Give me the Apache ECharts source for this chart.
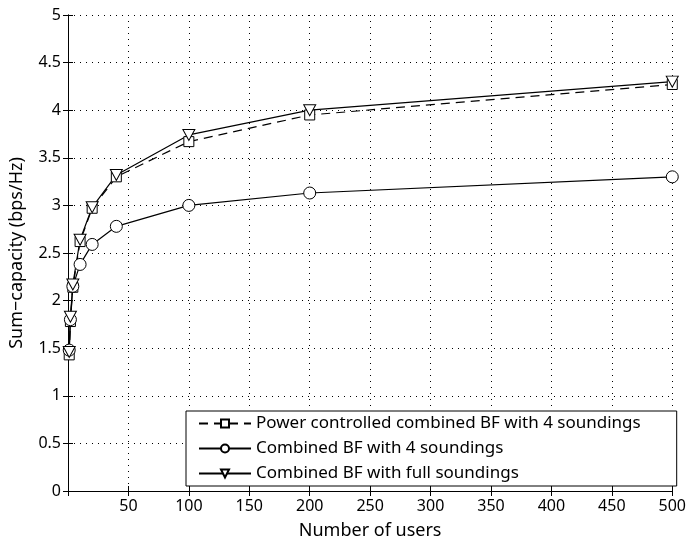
<!DOCTYPE html>
<html>
<head>
<meta charset="utf-8">
<script src="https://cdn.jsdelivr.net/npm/echarts@6/dist/echarts.min.js"></script>
<style>
  html, body { margin: 0; padding: 0; background: #fff; }
  #chart { width: 689px; height: 545px; }
</style>
</head>
<body>
<div id="chart"></div>
<script>
const users = [1, 2, 4, 10, 20, 40, 100, 200, 500]
const powerCtrl = [1.43, 1.78, 2.14, 2.62, 2.97, 3.30, 3.67, 3.95, 4.27]
const fourSound = [1.48, 1.80, 2.15, 2.38, 2.59, 2.78, 3.00, 3.13, 3.30]
const fullSound = [1.46, 1.83, 2.17, 2.64, 2.98, 3.32, 3.74, 4.00, 4.30]
const names = ['Power controlled combined BF with 4 soundings', 'Combined BF with 4 soundings', 'Combined BF with full soundings']

const font = 'Noto Sans'
const pairs = ys => users.map((u, i) => [u, ys[i]])
const hollow = { color: '#fff', borderColor: '#000', borderWidth: 1 }
const downTri = 'path://M0,0 L10,0 L5,9 Z'

const gridLine = { show: true, lineStyle: { color: '#000', type: [1, 5], width: 1 } }

const chart = echarts.init(document.getElementById('chart'))
chart.setOption({
  animation: false,
  textStyle: { fontFamily: font, color: '#000' },
  grid: { left: 67, right: 14, top: 15, bottom: 54, containLabel: false },
  legend: {
    orient: 'vertical',
    left: 186, top: 411,
    data: names,
    itemWidth: 52, itemHeight: 10, itemGap: 8,
    padding: [4, 36, 4, 12],
    borderColor: '#000', borderWidth: 1,
    backgroundColor: '#fff',
    textStyle: { fontFamily: font, fontSize: 17, color: '#000' }
  },
  xAxis: [{
    type: 'value', min: 0, max: 500, interval: 50,
    name: 'Number of users', nameLocation: 'middle', nameGap: 31,
    nameTextStyle: { fontSize: 18, fontFamily: font, color: '#000' },
    axisLine: { show: true, onZero: false, lineStyle: { color: '#000' } },
    axisTick: { inside: true, length: 5, lineStyle: { color: '#000' } },
    axisLabel: { fontSize: 16, color: '#000', margin: 7, showMinLabel: false },
    splitLine: gridLine
  }, {
    type: 'value', position: 'top', min: 0, max: 500, interval: 50,
    axisLine: { show: true, lineStyle: { color: '#000' } },
    axisTick: { inside: true, length: 5, lineStyle: { color: '#000' } },
    axisLabel: { show: false }, splitLine: { show: false }
  }],
  yAxis: [{
    type: 'value', min: 0, max: 5, interval: 0.5,
    name: 'Sum\u2212capacity (bps/Hz)', nameLocation: 'middle', nameGap: 42,
    nameTextStyle: { fontSize: 18, fontFamily: font, color: '#000' },
    axisLine: { show: true, lineStyle: { color: '#000' } },
    axisTick: { inside: true, length: 5, lineStyle: { color: '#000' } },
    axisLabel: { fontSize: 16, color: '#000', margin: 7 },
    splitLine: gridLine
  }, {
    type: 'value', position: 'right', min: 0, max: 5, interval: 0.5,
    axisLine: { show: true, lineStyle: { color: '#000' } },
    axisTick: { inside: true, length: 5, lineStyle: { color: '#000' } },
    axisLabel: { show: false }, splitLine: { show: false }
  }],
  series: [
    {
      name: names[0], type: 'line', data: pairs(powerCtrl),
      color: '#000',
      symbol: 'rect', symbolSize: 10, showAllSymbol: true,
      itemStyle: hollow,
      lineStyle: { color: '#000', width: 1.2, type: [9, 6] }
    },
    {
      name: names[1], type: 'line', data: pairs(fourSound),
      color: '#000',
      symbol: 'circle', symbolSize: 12, showAllSymbol: true,
      itemStyle: hollow,
      lineStyle: { color: '#000', width: 1.2 }
    },
    {
      name: names[2], type: 'line', data: pairs(fullSound),
      color: '#000',
      symbol: downTri, symbolSize: [12, 11], showAllSymbol: true,
      itemStyle: hollow,
      lineStyle: { color: '#000', width: 1.2 }
    }
  ]
})
</script>
</body>
</html>
